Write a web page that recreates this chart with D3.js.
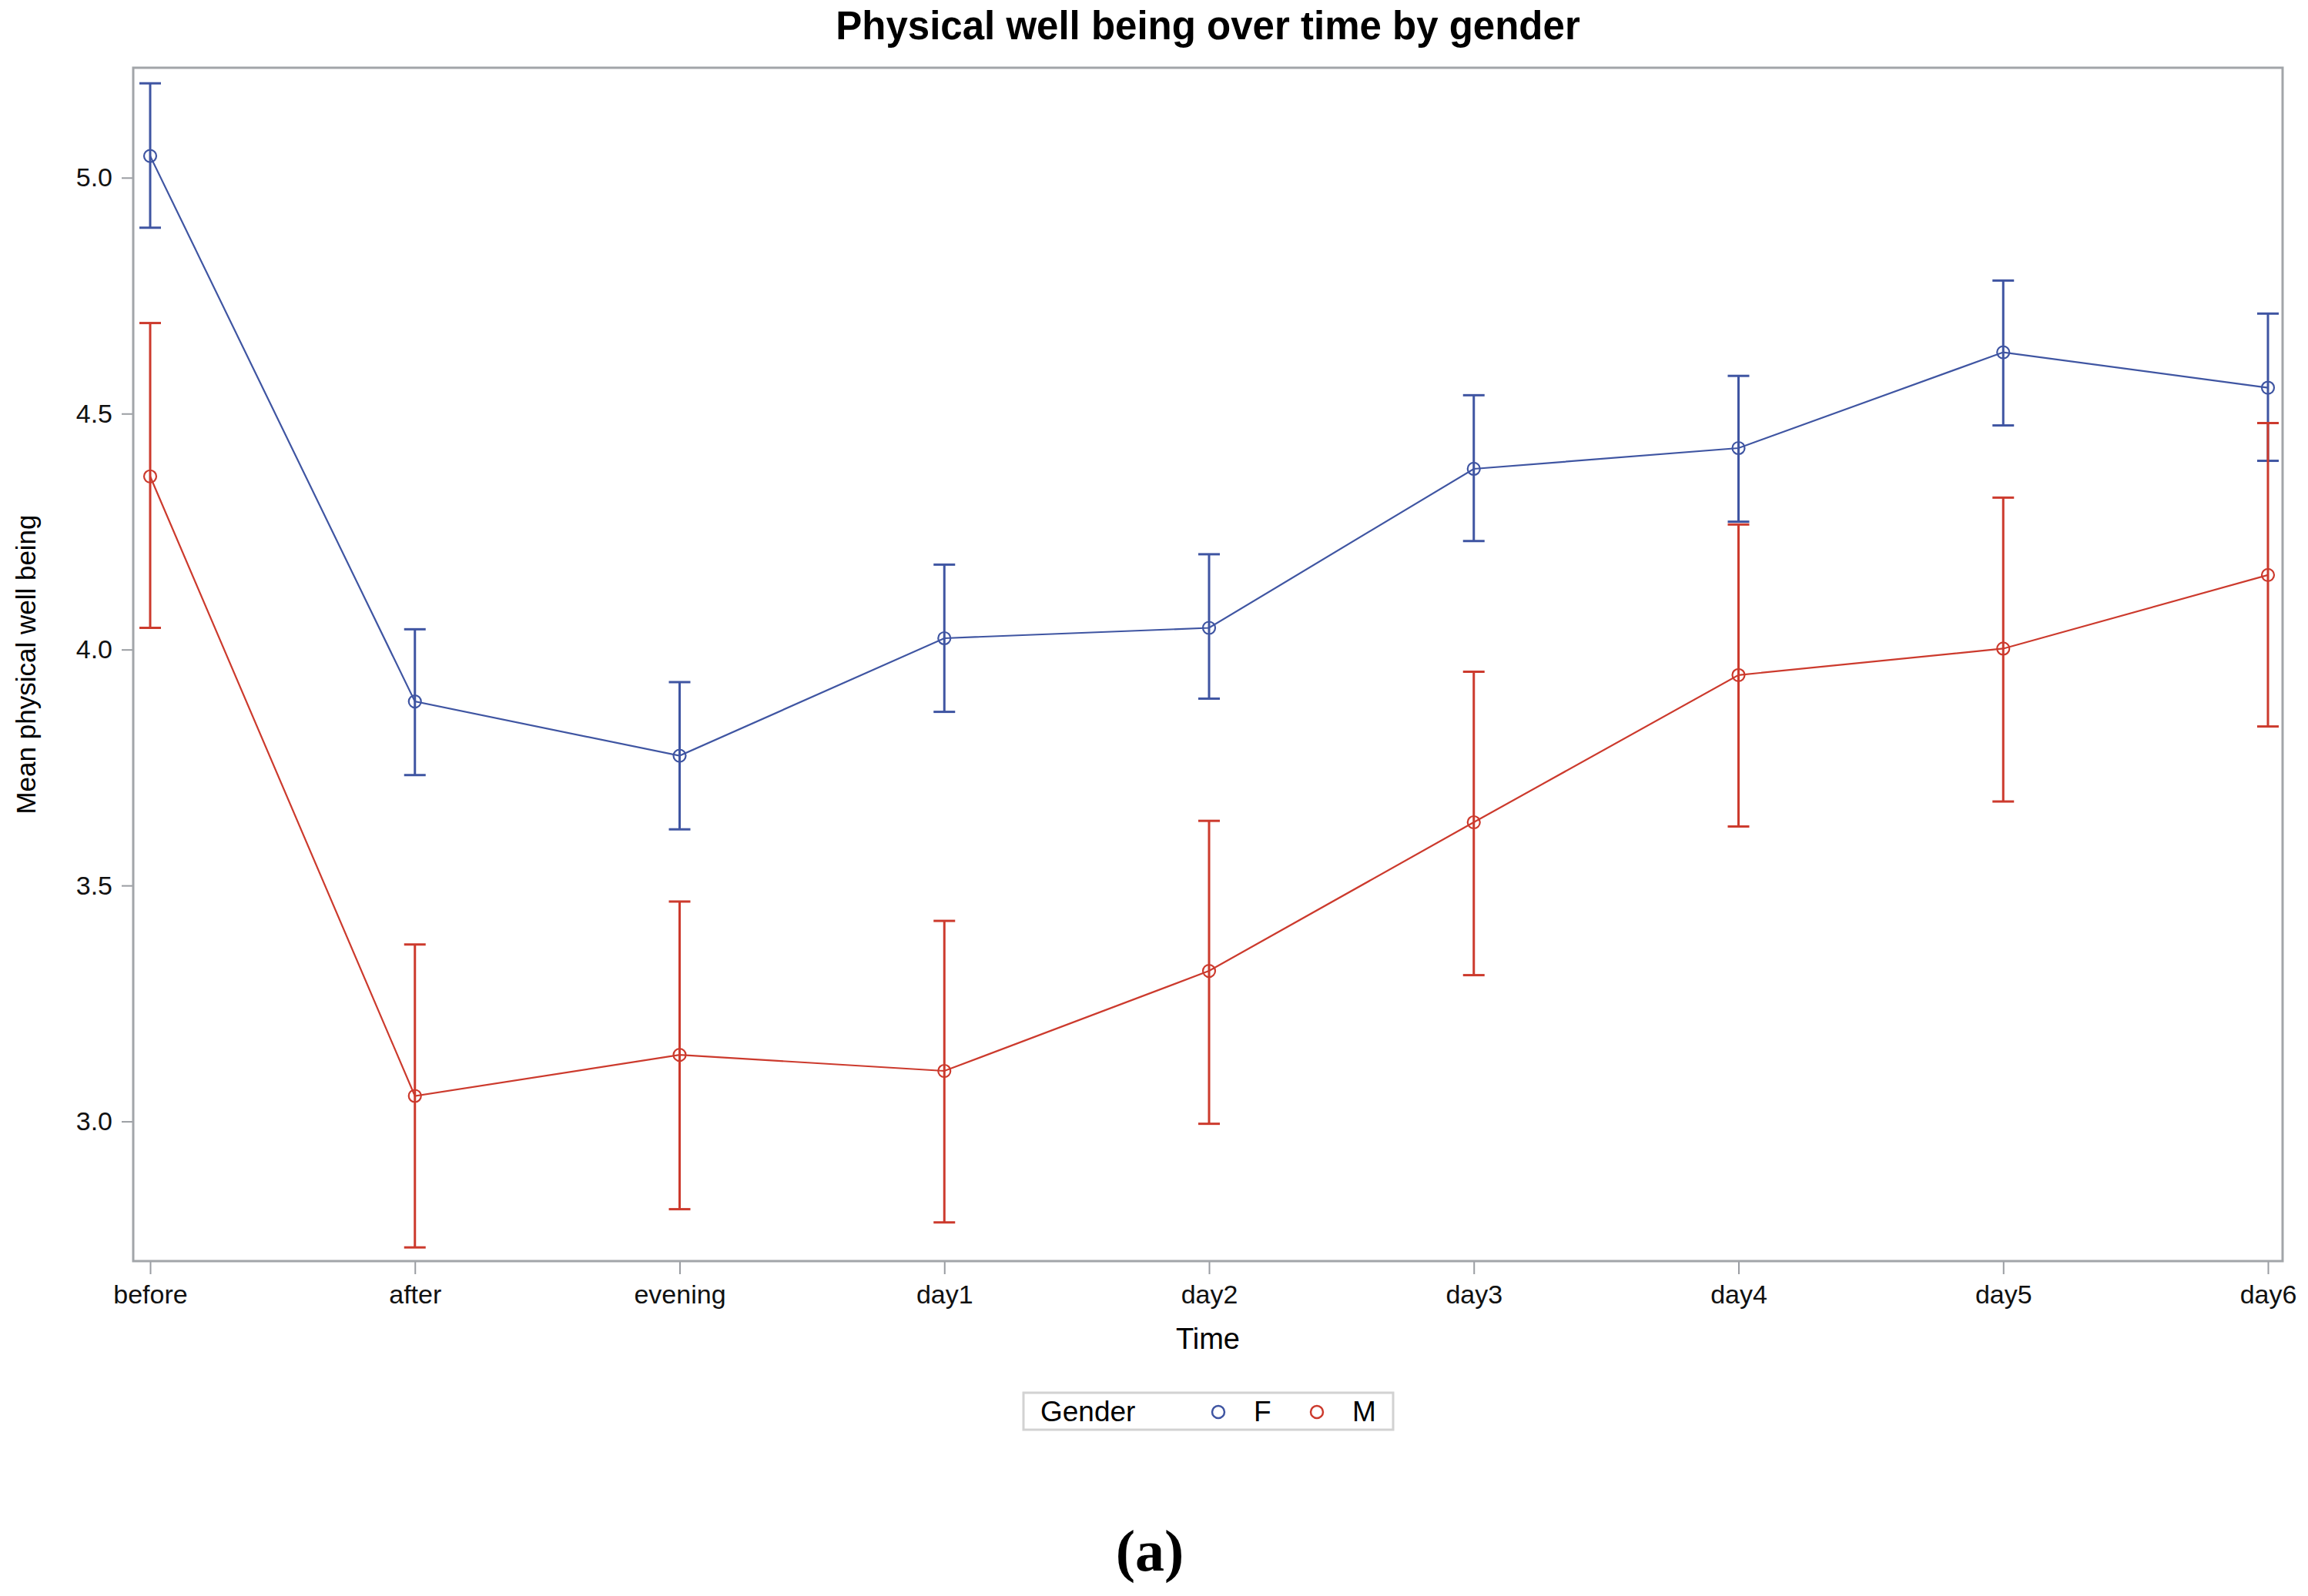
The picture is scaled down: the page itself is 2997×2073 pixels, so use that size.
<!DOCTYPE html>
<html>
<head>
<meta charset="utf-8">
<script src="https://cdn.jsdelivr.net/npm/d3@7"></script>
<style>
  body { margin: 0; background: #fff; }
  svg { display: block; font-family: "Liberation Sans", Arial, sans-serif; }
</style>
</head>
<body>
<div id="chart"></div>
<script>
// values
const times = ["before", "after", "evening", "day1", "day2", "day3", "day4", "day5", "day6"];
const yTicks = [3.0, 3.5, 4.0, 4.5, 5.0];

const femaleMean  = [5.046, 3.890, 3.775, 4.024, 4.046, 4.383, 4.427, 4.630, 4.555];
const femaleLower = [4.894, 3.734, 3.619, 3.868, 3.896, 4.230, 4.271, 4.475, 4.400];
const femaleUpper = [5.200, 4.043, 3.931, 4.180, 4.202, 4.539, 4.580, 4.782, 4.712];

const maleMean  = [4.367, 3.054, 3.141, 3.107, 3.319, 3.634, 3.946, 4.002, 4.158];
const maleLower = [4.046, 2.733, 2.814, 2.786, 2.995, 3.310, 3.625, 3.678, 3.837];
const maleUpper = [4.692, 3.375, 3.466, 3.425, 3.637, 3.953, 4.265, 4.322, 4.480];

const genders = ["F", "M"];
const colors = { F: "#3f55a2", M: "#cc3a2d" };

const W = 2997, H = 2073;
const frame = { left: 173, right: 2964, top: 88, bottom: 1638 };

const series = [
  { key: "F", mean: femaleMean, lower: femaleLower, upper: femaleUpper },
  { key: "M", mean: maleMean, lower: maleLower, upper: maleUpper }
];

const svg = d3.select("#chart").append("svg")
  .attr("width", W).attr("height", H);

svg.append("rect").attr("width", W).attr("height", H).attr("fill", "#fff");

const x = d3.scalePoint()
  .domain(times)
  .range([195, 2945]);

const y = d3.scaleLinear()
  .domain([2.704, 5.233])
  .range([frame.bottom, frame.top]);

// axes
const xAxis = svg.append("g")
  .attr("transform", `translate(0,${frame.bottom})`)
  .call(d3.axisBottom(x).tickSize(17).tickPadding(14));

const yAxis = svg.append("g")
  .attr("transform", `translate(${frame.left},0)`)
  .call(d3.axisLeft(y).tickValues(yTicks).tickFormat(d3.format(".1f")).tickSize(15).tickPadding(12));

[xAxis, yAxis].forEach(g => {
  g.select(".domain").remove();
  g.selectAll(".tick line").attr("stroke", "#9a9da2").attr("stroke-width", 2);
  g.selectAll(".tick text")
    .attr("fill", "#111")
    .style("font-size", "34px")
    .style("font-family", "'Liberation Sans', Arial, sans-serif");
});

// plot frame
svg.append("rect")
  .attr("x", frame.left).attr("y", frame.top)
  .attr("width", frame.right - frame.left)
  .attr("height", frame.bottom - frame.top)
  .attr("fill", "none")
  .attr("stroke", "#a2a5a9")
  .attr("stroke-width", 3);

const capHalf = 14;
const line = d3.line()
  .x((d, i) => x(times[i]))
  .y(d => y(d));

series.forEach(s => {
  const g = svg.append("g");
  const c = colors[s.key];

  // error bars
  const bars = g.selectAll(".err")
    .data(times)
    .enter().append("g");

  bars.append("line")
    .attr("x1", d => x(d)).attr("x2", d => x(d))
    .attr("y1", (d, i) => y(s.lower[i]))
    .attr("y2", (d, i) => y(s.upper[i]))
    .attr("stroke", c).attr("stroke-width", 3);

  bars.append("line")
    .attr("x1", d => x(d) - capHalf).attr("x2", d => x(d) + capHalf)
    .attr("y1", (d, i) => y(s.upper[i])).attr("y2", (d, i) => y(s.upper[i]))
    .attr("stroke", c).attr("stroke-width", 3);

  bars.append("line")
    .attr("x1", d => x(d) - capHalf).attr("x2", d => x(d) + capHalf)
    .attr("y1", (d, i) => y(s.lower[i])).attr("y2", (d, i) => y(s.lower[i]))
    .attr("stroke", c).attr("stroke-width", 3);

  // mean line
  g.append("path")
    .datum(s.mean)
    .attr("d", line)
    .attr("fill", "none")
    .attr("stroke", c)
    .attr("stroke-width", 2.2);

  // markers
  g.selectAll("circle")
    .data(s.mean)
    .enter().append("circle")
    .attr("cx", (d, i) => x(times[i]))
    .attr("cy", d => y(d))
    .attr("r", 8)
    .attr("fill", "none")
    .attr("stroke", c)
    .attr("stroke-width", 2.2);
});

// title and axis labels
svg.append("text")
  .attr("x", (frame.left + frame.right) / 2).attr("y", 51)
  .attr("text-anchor", "middle")
  .style("font-size", "51px").style("font-weight", "bold")
  .text("Physical well being over time by gender");

svg.append("text")
  .attr("x", (frame.left + frame.right) / 2).attr("y", 1752)
  .attr("text-anchor", "middle")
  .style("font-size", "38px")
  .text("Time");

svg.append("text")
  .attr("transform", `translate(46,${(frame.top + frame.bottom) / 2}) rotate(-90)`)
  .attr("text-anchor", "middle")
  .style("font-size", "35px")
  .text("Mean physical well being");

// legend
const legend = svg.append("g");
legend.append("rect")
  .attr("x", 1329).attr("y", 1809)
  .attr("width", 480).attr("height", 48)
  .attr("fill", "#fff")
  .attr("stroke", "#d2d2d2")
  .attr("stroke-width", 3);

legend.append("text")
  .attr("x", 1351).attr("y", 1846)
  .style("font-size", "37px")
  .text("Gender");

const legendX = { F: 1582, M: 1710 };
genders.forEach(k => {
  legend.append("circle")
    .attr("cx", legendX[k]).attr("cy", 1834)
    .attr("r", 8)
    .attr("fill", "none")
    .attr("stroke", colors[k])
    .attr("stroke-width", 2.5);
  legend.append("text")
    .attr("x", legendX[k] + 46).attr("y", 1846)
    .style("font-size", "37px")
    .text(k);
});

// panel label
svg.append("text")
  .attr("x", 1493).attr("y", 2040)
  .attr("text-anchor", "middle")
  .style("font-family", "'Liberation Serif', 'Times New Roman', serif")
  .style("font-size", "76px").style("font-weight", "bold")
  .text("(a)");
</script>
</body>
</html>
